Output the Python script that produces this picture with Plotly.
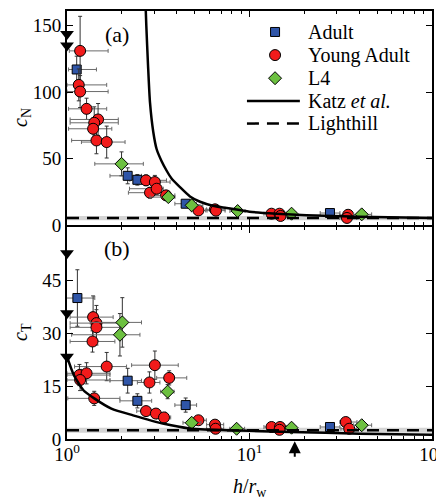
import plotly.graph_objects as go

# ---------------- data ----------------
# panel (a): normal coefficient c_N
adult_h_a = [1.13, 2.15, 2.43, 4.47, 27.6]
adult_cN = [117, 37, 34, 16, 9]
adult_hm_a = [0.11, 0.43, 0.22, 0.57, 3.2]
adult_hp_a = [0.32, 0.41, 0.48, 0.66, 3.7]
adult_ce_a = [10, 6, 4, 2, 1.5]

young_h_a = [1.18, 1.16, 1.18, 1.28, 1.48, 1.41, 1.39, 1.45, 1.65, 2.71, 3.03,
             2.85, 3.10, 3.49, 5.25, 6.47, 6.55, 13.2, 14.6, 14.8, 34.7, 34.2]
young_cN = [131, 105.4, 100.4, 87.4, 79.4, 76.9, 72.4, 63.6, 62.4, 33.6, 32.3,
            24.3, 27.3, 22.3, 11, 11.8, 10.8, 8.5, 8.5, 6.8, 7.7, 5.3]
young_hm_a = [0.15, 0.16, 0.18, 0.26, 0.44, 0.37, 0.37, 0.39, 0.45, 0.15, 0.5,
              0.68, 0.9, 0.64, 0.45, 0.65, 0.7, 1.2, 1.2, 1.2, 3.5, 3.0]
young_hp_a = [0.5, 0.49, 0.5, 0.37, 0.43, 0.5, 0.37, 0.2, 0.43, 0.8, 0.64,
              0.52, 0.27, 0.41, 0.5, 0.87, 0.8, 1.2, 1.2, 1.2, 4.0, 4.5]
young_ce_a = [26, 12, 12, 8, 12, 12, 8, 10, 12, 4, 5, 4, 4, 3, 2, 1.5, 1.5, 1, 1, 1, 1, 1]

l4_h_a = [1.99, 3.59, 4.82, 8.61, 17.0, 41.2]
l4_cN = [46, 21, 14.8, 10.5, 8.5, 8]
l4_hm_a = [0.57, 0.74, 0.3, 0.8, 1.0, 4.0]
l4_hp_a = [0.63, 0.31, 0.73, 0.84, 1.0, 5.5]
l4_ce_a = [9, 3, 2, 1.5, 1, 1]

# panel (b): tangential coefficient c_T
adult_h_b = [1.14, 2.15, 2.43, 4.47, 27.6]
adult_cT = [39.9, 16.5, 10.8, 9.6, 3.4]
adult_hm_b = [0.15, 0.43, 0.48, 0.57, 3.2]
adult_hp_b = [0.28, 0.41, 0.48, 0.66, 3.7]
adult_ce_b = [8, 3.5, 2, 2, 0.8]

young_h_b = [1.39, 1.45, 1.45, 1.38, 1.65, 1.17, 1.28, 1.18, 1.41, 3.03, 2.83, 3.63,
             2.71, 3.07, 3.40, 5.25, 6.47, 6.52, 13.2, 14.7, 14.6, 33.7, 35.2]
young_cT = [34.5, 32.8, 31.6, 27.6, 20.5, 18.1, 18.6, 16.7, 11.5, 20.9, 16.0, 17.3,
            7.9, 7.2, 6.1, 5.3, 4.06, 2.9, 3.4, 3.4, 2.6, 4.8, 2.9]
young_hm_b = [0.35, 0.41, 0.41, 0.34, 0.55, 0.17, 0.28, 0.18, 0.4, 0.77, 0.4, 0.53,
              0.3, 0.4, 0.3, 0.5, 0.65, 0.7, 1.2, 1.2, 1.2, 2.4, 3.5]
young_hp_b = [0.4, 0.55, 0.55, 0.45, 0.47, 0.55, 0.44, 0.54, 0.54, 1.04, 0.4, 0.9,
              0.3, 0.4, 0.3, 0.55, 0.75, 0.7, 1.2, 1.2, 1.2, 5.1, 3.6]
young_ce_b = [6, 5, 5, 3, 4, 3, 3, 3, 2, 4, 3, 2, 1, 1, 1, 1, 0.6, 0.6, 0.5, 0.5, 0.5, 0.6, 0.6]

l4_h_b = [2.01, 1.95, 3.56, 4.82, 8.5, 17.0, 41.2]
l4_cT = [33, 29.5, 13.4, 4.6, 2.9, 3.2, 3.9]
l4_hm_b = [0.67, 0.89, 0.3, 0.5, 0.7, 1.0, 4.0]
l4_hp_b = [0.55, 0.56, 0.3, 0.6, 0.9, 1.0, 5.5]
l4_ce_b = [7, 6, 2, 0.8, 0.5, 0.5, 0.6]

# theory curves
katz_h_a = [2.68, 2.72, 2.78, 2.85, 2.97, 3.10, 3.30, 3.51, 3.74, 4.16, 4.72,
            5.36, 6.3, 7.5, 10, 14, 20.5, 40, 100]
katz_cN = [175, 150, 120, 92, 70, 57, 48, 41, 35, 28.5, 21.5,
           17.5, 14.5, 12.8, 10, 8.5, 7.3, 6.2, 5.3]
katz_h_b = [1.0, 1.09, 1.23, 1.41, 1.75, 2.3, 3.4, 4.7, 7.5, 10, 16.7, 40, 100]
katz_cT = [23.3, 18.1, 13.8, 11.5, 8.6, 6.7, 4.3, 3.0, 2.5, 2.3, 2.0, 1.5, 1.2]

lighthill_h = [1, 100]
lighthill_cN = [5.2, 5.2]
lighthill_cT = [2.5, 2.5]
lighthill_band_cN = [3.6, 6.8]
lighthill_band_cT = [1.8, 3.2]

# wall-contact values (triangles at h/r_w = 1)
tri_h_a = [1.0, 1.0]
tri_cN = [143.7, 135]
tri_h_b = [1.0, 1.0, 1.0]
tri_cT = [52.6, 35.6, 23.3]

arrow_h = 17.7

legend_names = ['Adult', 'Young Adult', 'L4', 'Katz <i>et al.</i>', 'Lighthill']

# ---------------- styling ----------------
BLUE = '#2f55a8'
RED = '#f21b1b'
GREEN = '#6cc040'
FONT = 'Liberation Serif, DejaVu Serif, Times New Roman, serif'

fig = go.Figure()


def add_series(h, c, hm, hp, ce, name, color, symbol, size, xa, ya):
    fig.add_trace(go.Scatter(
        x=h, y=c, mode='markers', name=name, showlegend=False,
        xaxis=xa, yaxis=ya,
        marker=dict(color=color, symbol=symbol, size=size,
                    line=dict(color='black', width=1)),
        error_x=dict(type='data', symmetric=False, array=hp, arrayminus=hm,
                     color='#6a6a6a', thickness=1, width=2),
        error_y=dict(type='data', array=ce, color='#333333', thickness=1, width=2),
    ))


add_series(adult_h_a, adult_cN, adult_hm_a, adult_hp_a, adult_ce_a,
           'Adult', BLUE, 'square', 9, 'x', 'y')
add_series(young_h_a, young_cN, young_hm_a, young_hp_a, young_ce_a,
           'Young Adult', RED, 'circle', 11, 'x', 'y')
add_series(l4_h_a, l4_cN, l4_hm_a, l4_hp_a, l4_ce_a,
           'L4', GREEN, 'diamond', 10, 'x', 'y')
fig.add_trace(go.Scatter(x=katz_h_a, y=katz_cN, mode='lines', name='Katz et al.',
                         line=dict(color='black', width=2.5, shape='spline', smoothing=0.6),
                         xaxis='x', yaxis='y', showlegend=False))
fig.add_trace(go.Scatter(x=lighthill_h, y=lighthill_cN, mode='lines', name='Lighthill',
                         line=dict(color='black', width=2.5, dash='12px,8px'),
                         xaxis='x', yaxis='y', showlegend=False))

add_series(adult_h_b, adult_cT, adult_hm_b, adult_hp_b, adult_ce_b,
           'Adult', BLUE, 'square', 9, 'x2', 'y2')
add_series(young_h_b, young_cT, young_hm_b, young_hp_b, young_ce_b,
           'Young Adult', RED, 'circle', 11, 'x2', 'y2')
add_series(l4_h_b, l4_cT, l4_hm_b, l4_hp_b, l4_ce_b,
           'L4', GREEN, 'diamond', 10, 'x2', 'y2')
fig.add_trace(go.Scatter(x=katz_h_b, y=katz_cT, mode='lines', showlegend=False,
                         line=dict(color='black', width=2.5, shape='spline', smoothing=0.6),
                         xaxis='x2', yaxis='y2'))
fig.add_trace(go.Scatter(x=lighthill_h, y=lighthill_cT, mode='lines', showlegend=False,
                         line=dict(color='black', width=2.5, dash='12px,8px'),
                         xaxis='x2', yaxis='y2'))

# triangles
fig.add_trace(go.Scatter(x=tri_h_a, y=tri_cN, mode='markers', showlegend=False,
                         marker=dict(symbol='triangle-down', size=12, color='black'),
                         cliponaxis=False, xaxis='x', yaxis='y'))
fig.add_trace(go.Scatter(x=tri_h_b, y=tri_cT, mode='markers', showlegend=False,
                         marker=dict(symbol='triangle-down', size=12, color='black'),
                         cliponaxis=False, xaxis='x2', yaxis='y2'))

# ---------- legend drawn on an invisible full-frame axis ----------
LX_MARK, LX_L0, LX_L1, LX_TEXT = 0.570, 0.493, 0.638, 0.655
LY = [0.951, 0.897, 0.843, 0.790, 0.737]
for (col, sym, sz), yy in zip([(BLUE, 'square', 9), (RED, 'circle', 11), (GREEN, 'diamond', 10)], LY[:3]):
    fig.add_trace(go.Scatter(x=[LX_MARK], y=[yy], mode='markers', showlegend=False,
                             marker=dict(color=col, symbol=sym, size=sz,
                                         line=dict(color='black', width=1)),
                             xaxis='x3', yaxis='y3', cliponaxis=False, hoverinfo='skip'))
fig.add_trace(go.Scatter(x=[LX_L0, LX_L1], y=[LY[3], LY[3]], mode='lines', showlegend=False,
                         line=dict(color='black', width=2.5), xaxis='x3', yaxis='y3',
                         hoverinfo='skip'))
fig.add_trace(go.Scatter(x=[LX_L0, LX_L1], y=[LY[4], LY[4]], mode='lines', showlegend=False,
                         line=dict(color='black', width=2.5, dash='12px,8px'),
                         xaxis='x3', yaxis='y3', hoverinfo='skip'))
for name, yy in zip(legend_names, LY):
    fig.add_annotation(text=name, xref='x3', yref='y3', x=LX_TEXT, y=yy,
                       xanchor='left', yanchor='middle', showarrow=False,
                       font=dict(size=20))

# grey bands around Lighthill
fig.add_shape(type='rect', xref='x domain', yref='y', x0=0, x1=1,
              y0=lighthill_band_cN[0], y1=lighthill_band_cN[1],
              fillcolor='#d4d4d4', line=dict(width=0), layer='below')
fig.add_shape(type='rect', xref='x2 domain', yref='y2', x0=0, x1=1,
              y0=lighthill_band_cT[0], y1=lighthill_band_cT[1],
              fillcolor='#d4d4d4', line=dict(width=0), layer='below')

minor_vals = [2, 3, 4, 5, 6, 7, 8, 9, 20, 30, 40, 50, 60, 70, 80, 90]
common_x = dict(type='log', range=[0, 2], showgrid=False, zeroline=False,
                showline=True, linewidth=2, linecolor='black', mirror='ticks',
                ticks='inside', ticklen=6, tickwidth=1, tickcolor='black',
                tickmode='array', tickvals=[1, 10, 100],
                minor=dict(ticks='inside', ticklen=3, tickcolor='black',
                           tickmode='array', tickvals=minor_vals, showgrid=False))
common_y = dict(showgrid=False, zeroline=False, showline=True, linewidth=2,
                linecolor='black', mirror='ticks', ticks='inside', ticklen=6,
                tickwidth=1, tickcolor='black', tickmode='array')

fig.update_layout(
    width=444, height=501, autosize=False,
    margin=dict(l=59, r=20, t=1, b=70),
    plot_bgcolor='rgba(0,0,0,0)', paper_bgcolor='white',
    font=dict(family=FONT, size=19, color='black'),
    showlegend=False,
    xaxis=dict(common_x, domain=[0, 1], anchor='y', showticklabels=False),
    xaxis2=dict(common_x, domain=[0, 1], anchor='y2', showticklabels=True,
                ticklabelstandoff=-3,
                ticktext=['10<sup>0</sup>', '10<sup>1</sup>', '10<sup>2</sup>']),
    yaxis=dict(common_y, domain=[0.5, 1], anchor='x', range=[0, 161],
               tickvals=[0, 50, 100, 150]),
    yaxis2=dict(common_y, domain=[0, 0.4953], anchor='x2', range=[0, 60],
                tickvals=[0, 15, 30, 45]),
    xaxis3=dict(domain=[0, 1], range=[0, 1], anchor='y3', visible=False, fixedrange=True),
    yaxis3=dict(domain=[0, 1], range=[0, 1], anchor='x3', visible=False, fixedrange=True),
)

# axis titles and panel labels
fig.add_annotation(text='<i>c</i><sub>N</sub>', xref='paper', yref='paper',
                   x=-0.125, y=0.751, xanchor='center', yanchor='middle',
                   showarrow=False, textangle=-90, font=dict(size=20))
fig.add_annotation(text='<i>c</i><sub>T</sub>', xref='paper', yref='paper',
                   x=-0.125, y=0.251, xanchor='center', yanchor='middle',
                   showarrow=False, textangle=-90, font=dict(size=20))
fig.add_annotation(text='<i>h</i>/<i>r</i><sub>w</sub>', xref='paper', yref='paper',
                   x=0.501, y=-0.114, xanchor='center', yanchor='middle',
                   showarrow=False, font=dict(size=20))
fig.add_annotation(text='(a)', xref='paper', yref='paper', x=0.137, y=0.944,
                   xanchor='center', yanchor='middle', showarrow=False,
                   font=dict(size=22))
fig.add_annotation(text='(b)', xref='paper', yref='paper', x=0.137, y=0.444,
                   xanchor='center', yanchor='middle', showarrow=False,
                   font=dict(size=22))
# arrow marking h/r_w
fig.add_annotation(text='', x=1.248, xref='x2', y=-0.005, yref='paper',
                   showarrow=True, arrowhead=2, arrowsize=1.2, arrowwidth=2,
                   arrowcolor='black', ax=0, ay=17)

fig.write_html('out.html')
